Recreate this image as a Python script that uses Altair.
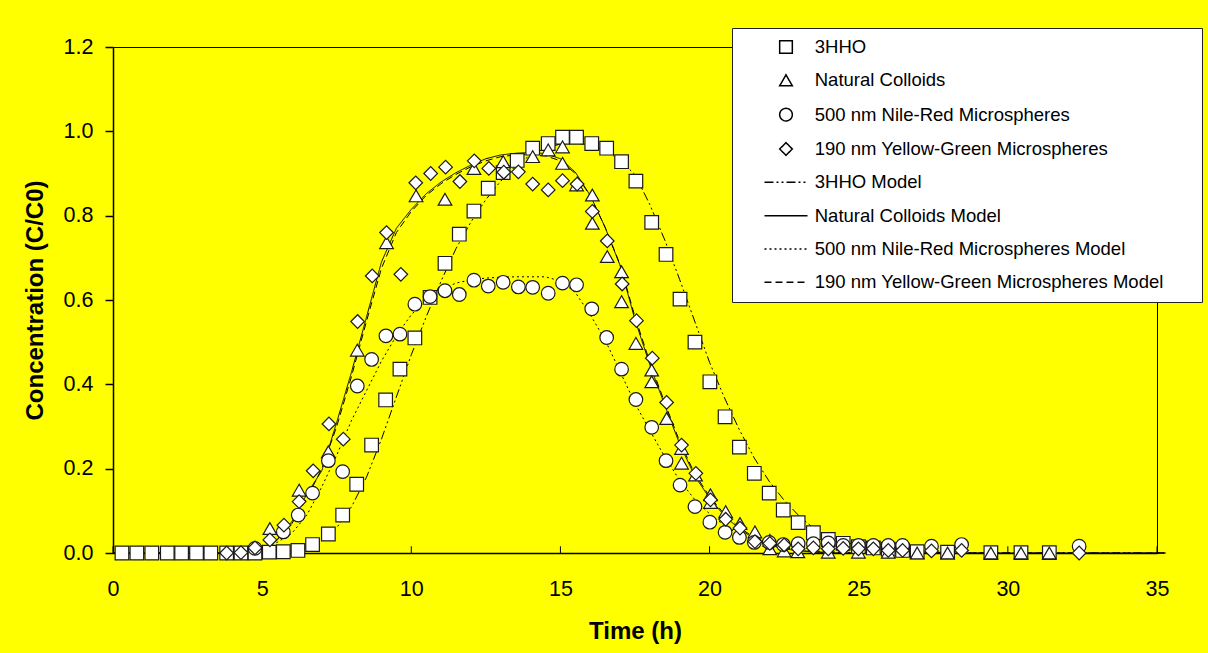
import altair as alt
import pandas as pd

# ---------------- data ----------------
series_names = [
    "3HHO",
    "Natural Colloids",
    "500 nm Nile-Red Microspheres",
    "190 nm Yellow-Green Microspheres",
    "3HHO Model",
    "Natural Colloids Model",
    "500 nm Nile-Red Microspheres Model",
    "190 nm Yellow-Green Microspheres Model",
]

hho_t = [0.3, 0.8, 1.3, 1.82, 2.3, 2.8, 3.28, 3.81, 4.29, 4.76, 5.24, 5.71, 6.2, 6.69, 7.22, 7.7,
         8.17, 8.67, 9.14, 9.62, 10.12, 10.63, 11.13, 11.61, 12.1, 12.58, 13.08, 13.55, 14.07,
         14.59, 15.07, 15.54, 16.05, 16.55, 17.05, 17.53, 18.06, 18.54, 19.01, 19.51, 20.01,
         20.52, 21.0, 21.5, 22.0, 22.47, 22.97, 23.48, 23.98, 24.48, 24.99, 25.49, 25.99, 26.47,
         26.96, 27.98, 29.43, 30.44, 31.39]
hho_c = [0.0, 0.0, 0.0, 0.0, 0.0, 0.0, 0.0, 0.0, 0.0, 0.0, 0.002, 0.003, 0.006, 0.02, 0.045, 0.09,
         0.163, 0.256, 0.363, 0.436, 0.51, 0.606, 0.687, 0.756, 0.811, 0.865, 0.902, 0.931, 0.96,
         0.971, 0.986, 0.986, 0.971, 0.96, 0.928, 0.882, 0.784, 0.708, 0.602, 0.5, 0.406,
         0.323, 0.251, 0.189, 0.142, 0.102, 0.072, 0.048, 0.032, 0.023, 0.015, 0.012, 0.009, 0.006,
         0.003, 0.002, 0.001, 0.001, 0.001]

nc_t = [5.26, 6.24, 7.22, 8.19, 9.17, 10.16, 11.13, 12.1, 13.08, 14.07, 14.59, 15.07, 15.07, 15.54,
        16.07, 16.07, 16.57, 17.05, 17.05, 17.53, 18.06, 18.06, 18.56, 19.06, 19.06, 19.53, 20.03,
        20.03, 20.54, 21.02, 21.52, 22.02, 22.02, 22.5, 22.96, 23.98, 24.99, 25.99, 26.96, 27.98,
        29.43, 30.44, 31.39]
nc_c = [0.058, 0.149, 0.24, 0.481, 0.736, 0.847, 0.839, 0.912, 0.928, 0.94, 0.956, 0.963, 0.924, 0.873,
        0.849, 0.782, 0.703, 0.667, 0.596, 0.497, 0.434, 0.406, 0.319, 0.248, 0.213, 0.185, 0.138,
        0.12, 0.098, 0.07, 0.05, 0.03, 0.01, 0.005, 0.003, 0.002, 0.002, 0.002, 0.0, 0.0,
        0.0, 0.0, 0.0]

nr_t = [4.76, 5.71, 6.21, 6.69, 7.22, 7.7, 8.19, 8.67, 9.15, 9.62, 10.12, 10.63, 11.13, 11.61, 12.1,
        12.58, 13.08, 13.59, 14.07, 14.59, 15.07, 15.54, 16.05, 16.55, 17.05, 17.53, 18.06, 18.54,
        19.01, 19.51, 20.01, 20.52, 21.0, 21.5, 22.0, 22.47, 22.97, 23.48, 23.98, 24.48, 24.99,
        25.49, 25.99, 26.47, 27.44, 28.45, 32.39]
nr_c = [0.011, 0.05, 0.09, 0.142, 0.219, 0.193, 0.396, 0.459, 0.515, 0.519, 0.59, 0.608, 0.622, 0.613,
        0.647, 0.633, 0.642, 0.631, 0.63, 0.616, 0.64, 0.636, 0.579, 0.511, 0.436, 0.364, 0.298,
        0.219, 0.161, 0.11, 0.073, 0.049, 0.037, 0.025, 0.025, 0.02, 0.022, 0.022, 0.024, 0.018,
        0.018, 0.018, 0.018, 0.018, 0.016, 0.02, 0.016]

yg_t = [3.81, 4.29, 4.76, 5.26, 5.73, 6.24, 6.71, 7.24, 7.72, 8.2, 8.69, 9.17, 9.65, 10.15, 10.65,
        11.15, 11.63, 12.11, 12.6, 13.1, 13.59, 14.07, 14.59, 15.07, 15.56, 16.07, 16.57, 17.07,
        17.55, 18.08, 18.56, 19.06, 19.54, 20.03, 20.54, 21.02, 21.52, 22.02, 22.5, 22.97, 23.48,
        23.98, 24.48, 24.99, 25.49, 25.99, 26.47, 27.44, 28.45, 32.39]
yg_c = [0.0, 0.001, 0.012, 0.031, 0.066, 0.122, 0.195, 0.306, 0.27, 0.549, 0.657, 0.76, 0.661, 0.878,
        0.9, 0.915, 0.881, 0.93, 0.912, 0.903, 0.904, 0.875, 0.861, 0.883, 0.875, 0.81, 0.74, 0.638,
        0.551, 0.462, 0.357, 0.256, 0.189, 0.126, 0.08, 0.059, 0.027, 0.023, 0.019, 0.01, 0.012,
        0.01, 0.011, 0.01, 0.01, 0.006, 0.006, 0.005, 0.006, 0.0]

model_t = [0, 2, 4, 4.5, 5, 5.5, 6, 6.5, 7, 7.5, 8, 8.5, 9, 9.5, 10, 10.5, 11, 11.5, 12, 12.5, 13,
           13.5, 14, 14.5, 15, 15.5, 16, 16.5, 17, 17.5, 18, 18.5, 19, 19.5, 20, 20.5, 21, 21.5, 22,
           22.5, 23, 23.5, 24, 24.5, 25, 25.5, 26, 27, 28, 30, 32, 35.3]
hho_model = [0, 0, 0, 0, 0, 0.001, 0.005, 0.013, 0.03, 0.06, 0.11, 0.18, 0.27, 0.37, 0.47, 0.56, 0.645,
             0.722, 0.785, 0.838, 0.882, 0.918, 0.944, 0.96, 0.97, 0.972, 0.968, 0.955, 0.932, 0.897,
             0.826, 0.742, 0.648, 0.55, 0.452, 0.368, 0.292, 0.225, 0.17, 0.125, 0.088, 0.058, 0.04,
             0.027, 0.018, 0.012, 0.008, 0.003, 0.001, 0, 0, 0]
nc_model = [0, 0, 0, 0.002, 0.01, 0.03, 0.075, 0.14, 0.195, 0.31, 0.43, 0.56, 0.69, 0.77, 0.815, 0.852,
            0.88, 0.902, 0.92, 0.935, 0.944, 0.948, 0.95, 0.947, 0.935, 0.903, 0.848, 0.772, 0.682,
            0.553, 0.446, 0.35, 0.258, 0.183, 0.13, 0.088, 0.057, 0.034, 0.019, 0.01, 0.005, 0.002,
            0.001, 0, 0, 0, 0, 0, 0, 0, 0, 0]
nr_model = [0, 0, 0, 0.002, 0.01, 0.025, 0.047, 0.09, 0.157, 0.232, 0.315, 0.385, 0.455, 0.515, 0.565,
            0.6, 0.625, 0.64, 0.648, 0.652, 0.654, 0.655, 0.655, 0.655, 0.645, 0.618, 0.565, 0.505,
            0.43, 0.355, 0.29, 0.228, 0.172, 0.127, 0.093, 0.065, 0.044, 0.03, 0.02, 0.013, 0.008,
            0.005, 0.003, 0.002, 0.001, 0, 0, 0, 0, 0, 0, 0]
yg_model = [0, 0, 0, 0.003, 0.012, 0.032, 0.07, 0.13, 0.2, 0.3, 0.42, 0.55, 0.675, 0.76, 0.81, 0.848,
            0.876, 0.898, 0.916, 0.93, 0.94, 0.944, 0.945, 0.942, 0.93, 0.9, 0.847, 0.772, 0.684,
            0.56, 0.452, 0.356, 0.264, 0.188, 0.134, 0.092, 0.06, 0.037, 0.021, 0.012, 0.006, 0.003,
            0.001, 0, 0, 0, 0, 0, 0, 0, 0, 0]

x_ticks = [0, 5, 10, 15, 20, 25, 30, 35]
y_ticks = [0.0, 0.2, 0.4, 0.6, 0.8, 1.0, 1.2]

# ---------------- tables ----------------
pts = []
for name, ts, cs in [(series_names[0], hho_t, hho_c), (series_names[1], nc_t, nc_c),
                     (series_names[2], nr_t, nr_c), (series_names[3], yg_t, yg_c)]:
    for t, c in zip(ts, cs):
        pts.append({"t": t, "c": c, "series": name})
df_pts = pd.DataFrame(pts)

mods = []
for name, cs in [(series_names[4], hho_model), (series_names[5], nc_model),
                 (series_names[6], nr_model), (series_names[7], yg_model)]:
    for t, c in zip(model_t, cs):
        mods.append({"t": t, "c": c, "series": name})
df_mod = pd.DataFrame(mods)

# inner x-axis tick marks (drawn upward from the axis line)
df_ticks = pd.DataFrame({"t": x_ticks, "c0": [0.0] * len(x_ticks), "c1": [0.016] * len(x_ticks)})

# ---------------- styling ----------------
FONT = "Liberation Sans"
LINE_SYM = "M-3.4,0H3.4"
shape_range = ["square", "triangle-up", "circle", "diamond", LINE_SYM, LINE_SYM, LINE_SYM, LINE_SYM]
dash_range = [[1, 0], [1, 0], [1, 0], [1, 0], [9, 3, 2, 3, 2, 3], [1, 0], [2, 3], [7, 4]]

xscale = alt.Scale(domain=[0, 35], nice=False, zero=False)
yscale = alt.Scale(domain=[0, 1.2], nice=False)

PAD = "\u2800\u2800"
legend = alt.Legend(
    title=None, orient="none", legendX=619, legendY=-19,
    fillColor="white", strokeColor="#222222", padding=9.75,
    labelFont=FONT, labelFontSize=18.5, labelColor="black",
    rowPadding=14.33, symbolOffset=35, labelOffset=19.5,
    symbolSize=160, labelExpr="datum.label + '" + PAD + "'",
    labelLimit=600,
)

x_axis = alt.Axis(orient="bottom", title="Time (h)", values=x_ticks, ticks=False,
                  tickSize=0, labelPadding=25, grid=False, domainColor="black",
                  domainWidth=1.5, labelFont=FONT, labelFontSize=21.5,
                  labelColor="black", titleFont=FONT, titleFontSize=24,
                  titleFontWeight="bold", titleColor="black", titleY=78,
                  titleBaseline="middle", labelFlush=False)

y_axis = alt.Axis(title="Concentration (C/C0)", values=y_ticks, format=".1f",
                  tickSize=8, tickWidth=1.5, tickColor="black", labelPadding=12,
                  grid=False, domainColor="black", domainWidth=1.5, labelFont=FONT,
                  labelFontSize=21.5, labelColor="black", titleFont=FONT,
                  titleFontSize=24, titleFontWeight="bold", titleColor="black",
                  titleX=-78, titleBaseline="middle", titleAngle=270, labelFlush=False)

tick_marks = alt.Chart(df_ticks).mark_rule(color="black", strokeWidth=1).encode(
    x=alt.X("t:Q", scale=xscale, axis=x_axis),
    y=alt.Y("c0:Q", scale=yscale, axis=y_axis),
    y2="c1:Q",
)

lines = alt.Chart(df_mod).mark_line(color="black", strokeWidth=1).encode(
    x=alt.X("t:Q", scale=xscale, axis=x_axis),
    y=alt.Y("c:Q", scale=yscale, axis=y_axis),
    strokeDash=alt.StrokeDash("series:N",
                              scale=alt.Scale(domain=series_names, range=dash_range),
                              legend=legend),
)

points = alt.Chart(df_pts).mark_point(
    filled=True, fill="white", stroke="#1a1a1a", strokeWidth=1.2, opacity=1, size=185
).encode(
    x=alt.X("t:Q", scale=xscale, axis=x_axis),
    y=alt.Y("c:Q", scale=yscale, axis=y_axis),
    shape=alt.Shape("series:N", scale=alt.Scale(domain=series_names, range=shape_range),
                    legend=legend),
)

chart = alt.layer(tick_marks, lines, points).properties(
    width=1044, height=506,
    autosize=alt.AutoSizeParams(type="none"),
    padding={"left": 113, "top": 47, "right": 51, "bottom": 100},
    background="#FFFF00",
).configure_view(stroke="black", strokeWidth=1, fill="#FFFF00")

chart.save("out.html", embed_options={"renderer": "svg", "actions": False})
